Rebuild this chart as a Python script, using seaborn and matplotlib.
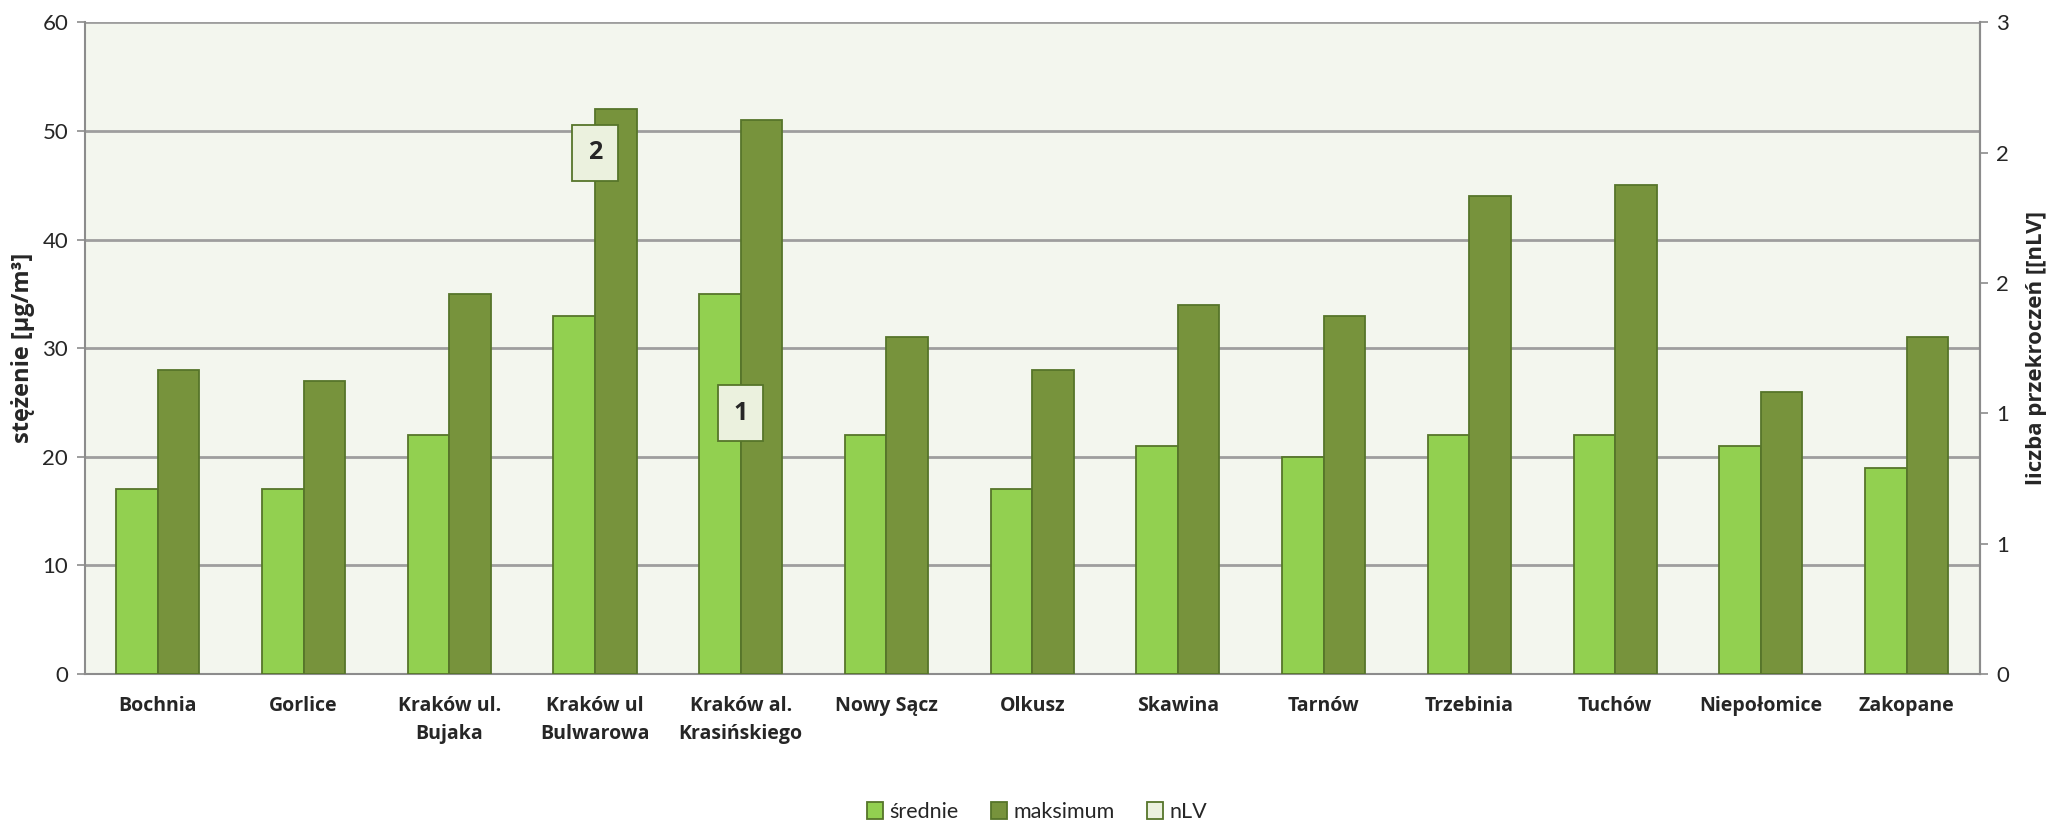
import matplotlib
matplotlib.use("Agg")
import matplotlib.pyplot as plt
import seaborn as sns
import pandas as pd
import numpy as np
from matplotlib.patches import Patch
from matplotlib.ticker import FuncFormatter, MultipleLocator

categories = ["Bochnia", "Gorlice", "Kraków ul.\nBujaka", "Kraków ul\nBulwarowa",
              "Kraków al.\nKrasińskiego", "Nowy Sącz", "Olkusz", "Skawina", "Tarnów",
              "Trzebinia", "Tuchów", "Niepołomice", "Zakopane"]
srednie = [17, 17, 22, 33, 35, 22, 17, 21, 20, 22, 22, 21, 19]
maksimum = [28, 27, 35, 52, 51, 31, 28, 34, 33, 44, 45, 26, 31]
nlv = [0, 0, 0, 2, 1, 0, 0, 0, 0, 0, 0, 0, 0]
series_names = ["średnie", "maksimum", "nLV"]

C_LIGHT = "#92D050"
C_DARK = "#77933C"
C_NLV = "#EBF1DE"
C_EDGE = "#56752A"
BG = "#F3F6EE"
FONT = ["Lato", "DejaVu Sans"]
BOLD = ["Open Sans", "DejaVu Sans"]

sns.set_theme(style="white")
plt.rcParams["font.family"] = FONT

df = pd.DataFrame({
    "kategoria": categories * 2,
    "seria": [series_names[0]] * len(categories) + [series_names[1]] * len(categories),
    "wartosc": srednie + maksimum,
})

fig = plt.figure(figsize=(20.46, 8.25), dpi=100)
ax = fig.add_axes([0.0415, 0.183, 0.926, 0.790])
ax.set_facecolor(BG)

sns.barplot(data=df, x="kategoria", y="wartosc", hue="seria", order=categories,
            hue_order=series_names[:2], palette=[C_LIGHT, C_DARK], saturation=1,
            width=0.57, gap=0, edgecolor=C_EDGE, linewidth=1.3, ax=ax, legend=False,
            zorder=3)

ax.set_ylim(0, 60)
ax.yaxis.set_major_locator(MultipleLocator(10))
ax.set_xlim(-0.5, len(categories) - 0.5)
ax.grid(axis="y", color="#9E9E9E", linewidth=2, zorder=0)
ax.set_axisbelow(True)
ax.spines["top"].set_visible(False)
for s in ["left", "right", "bottom"]:
    ax.spines[s].set_color("#8C8C8C")
    ax.spines[s].set_linewidth(1.5)
ax.tick_params(axis="y", which="major", direction="out", length=6, width=1.2,
               color="#8C8C8C", labelsize=16, pad=6, left=True)
ax.tick_params(axis="x", length=0, labelsize=14, pad=16)
for lab in ax.get_xticklabels():
    lab.set_fontweight("bold")
    lab.set_family(BOLD)
    lab.set_linespacing(1.55)
    lab.set_verticalalignment("top")
ax.set_xlabel("")
ax.set_ylabel("stężenie [µg/m³]", fontsize=17, fontweight="bold", family=BOLD,
              labelpad=5)

ax2 = ax.twinx()
ax2.set_ylim(0, 2.5)
ax2.yaxis.set_major_locator(MultipleLocator(0.5))
ax2.yaxis.set_major_formatter(FuncFormatter(lambda v, p: str(int(np.floor(v + 0.5)))))
ax2.tick_params(axis="y", direction="out", length=6, width=1.2, color="#8C8C8C",
                labelsize=16, pad=6, right=True)
ax2.grid(False)
for s in ["top", "left", "bottom"]:
    ax2.spines[s].set_visible(False)
ax2.spines["right"].set_color("#8C8C8C")
ax2.spines["right"].set_linewidth(1.5)
ax2.set_ylabel("liczba przekroczeń [[nLV]", fontsize=16, fontweight="bold", family=BOLD,
               rotation=90, labelpad=12)

df2 = pd.DataFrame({"kategoria": categories, "nLV": nlv})
sns.barplot(data=df2, x="kategoria", y="nLV", order=categories,
            facecolor=(0, 0, 0, 0), edgecolor=(0, 0, 0, 0), width=0.57, ax=ax2)
ax2.set_xlabel("")
for i, v in enumerate(nlv):
    if v > 0:
        ax2.text(i, v, str(v), ha="center", va="center", fontsize=18, fontweight="bold",
                 family=BOLD, zorder=5,
                 bbox=dict(boxstyle="square,pad=0.62", facecolor=C_NLV, edgecolor=C_EDGE,
                           linewidth=1.3))
ax2.set_xlim(-0.5, len(categories) - 0.5)

handles = [Patch(facecolor=c, edgecolor=C_EDGE, linewidth=1.3) for c in (C_LIGHT, C_DARK, C_NLV)]
fig.legend(handles, series_names, loc="center", bbox_to_anchor=(0.507, 0.016), ncol=3,
           frameon=False, fontsize=15.5, handlelength=0.75, handleheight=0.9,
           handletextpad=0.3, columnspacing=1.5)

fig.savefig("out.png", dpi=100, facecolor="white")
